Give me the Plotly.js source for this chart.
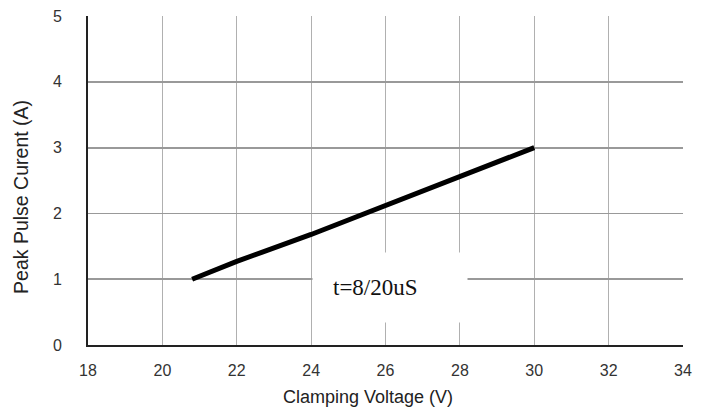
<!DOCTYPE html>
<html>
<head>
<meta charset="utf-8">
<script src="https://cdn.plot.ly/plotly-3.0.1.min.js"></script>
<style>html,body{margin:0;padding:0;background:#fff;}#chart{width:709px;height:411px;}</style>
</head>
<body>
<div id="chart"></div>
<script>
const voltage = [20.8, 22, 24, 26, 28, 30];
const current = [1.0, 1.27, 1.68, 2.12, 2.56, 3.0];
const xTicks = [18, 20, 22, 24, 26, 28, 30, 32, 34];
const yTicks = [0, 1, 2, 3, 4, 5];
const noteText = 't=8/20uS';
const xTitle = 'Clamping Voltage (V)';
const yTitle = 'Peak Pulse Curent (A)';

const trace = {
  x: voltage, y: current, type: 'scatter', mode: 'lines',
  line: {color: '#000', width: 5}, hoverinfo: 'skip'
};

const layout = {
  width: 709, height: 411,
  margin: {l: 88, r: 26, t: 16, b: 66},
  paper_bgcolor: '#fff', plot_bgcolor: '#fff',
  showlegend: false,
  font: {family: 'Liberation Sans, Arial, sans-serif', color: '#333', size: 16},
  xaxis: {
    range: [18, 34], tickvals: xTicks, ticktext: xTicks.map(String),
    showgrid: true, gridcolor: '#b0b0b0', gridwidth: 1,
    zeroline: false, showline: true, linecolor: '#222', linewidth: 2,
    ticks: '', ticklabelstandoff: 10,
    tickfont: {size: 16, color: '#333'}
  },
  yaxis: {
    range: [0, 5], tickvals: yTicks, ticktext: yTicks.map(String),
    showgrid: true, gridcolor: '#999', gridwidth: 1.8,
    zeroline: false, showline: true, linecolor: '#222', linewidth: 2,
    ticks: '', ticklabelstandoff: 21,
    tickfont: {size: 16, color: '#333'}
  },
  annotations: [
    {
      x: 26.12, y: 0.87, xref: 'x', yref: 'y', text: ' ', showarrow: false,
      bgcolor: '#fff', width: 154, height: 69, borderpad: 0
    },
    {
      x: 25.74, y: 0.87, xref: 'x', yref: 'y', text: noteText, showarrow: false,
      font: {family: 'Liberation Serif, Times New Roman, serif', size: 23, color: '#111'}
    },
    {
      x: 0.4706, y: 0, xref: 'paper', yref: 'paper', xanchor: 'center', yanchor: 'middle',
      yshift: -52, text: xTitle, showarrow: false,
      font: {size: 18, color: '#222'}
    },
    {
      x: 0, y: 0.45, xref: 'paper', yref: 'paper', xanchor: 'center', yanchor: 'middle',
      xshift: -67, text: yTitle, showarrow: false, textangle: -90,
      font: {size: 19.5, color: '#222'}
    }
  ]
};

Plotly.newPlot('chart', [trace], layout, {staticPlot: true, displayModeBar: false});
</script>
</body>
</html>
